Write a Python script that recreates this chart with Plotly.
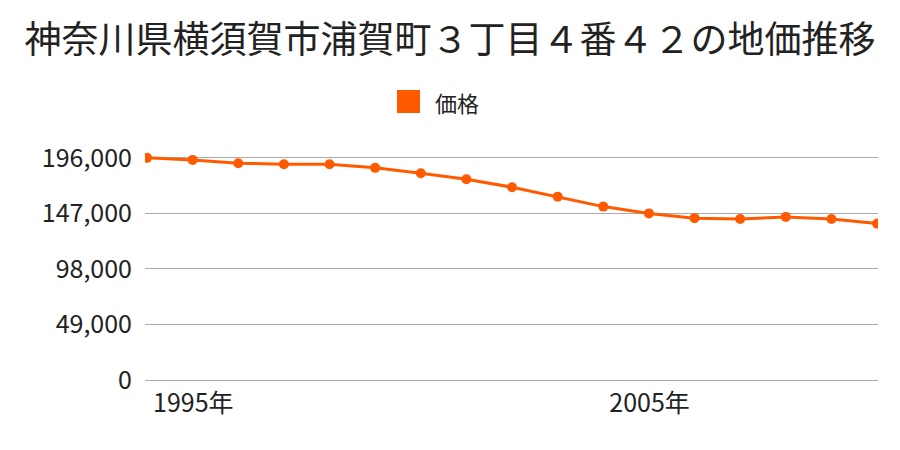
import plotly.graph_objects as go

years = list(range(1995, 2012))
prices = [196000, 194200, 191300, 190400, 190400, 187200, 182500, 177200,
          170100, 161800, 153000, 147000, 142800, 142100, 143900, 142100, 138000]
y_ticks = [0, 49000, 98000, 147000, 196000]
x_ticks = [1995, 2005]
x_tick_labels = ["1995年", "2005年"]
series_name = "価格"
title = "神奈川県横須賀市浦賀町３丁目４番４２の地価推移"

color = "#FF5A00"
font = "Noto Sans CJK JP"

fig = go.Figure()
fig.add_trace(go.Scatter(
    x=years, y=prices, mode="lines+markers", name=series_name,
    line=dict(color=color, width=3), marker=dict(color=color, size=10),
    showlegend=False,
))

# legend (square swatch + label)
fig.add_shape(type="rect", xref="paper", yref="paper",
              x0=0.3438, x1=0.3752, y0=1.1218, y1=1.2185,
              fillcolor=color, line=dict(width=0))
fig.add_annotation(text=series_name, xref="paper", yref="paper",
                   x=0.3929, y=1.170, xanchor="left", yanchor="middle",
                   showarrow=False, font=dict(size=22, family=font, color="#222222"))

fig.update_layout(
    width=900, height=450,
    margin=dict(l=145, r=22, t=142, b=70),
    paper_bgcolor="white", plot_bgcolor="white",
    font=dict(family=font, color="#222222", size=25),
    title=dict(text=title, x=0.5, xanchor="center", y=0.912, yanchor="middle",
               font=dict(size=37, family=font, color="#222222")),
    showlegend=False,
)
fig.update_xaxes(
    range=[1994.956, 2011.02], tickvals=x_ticks, ticktext=x_tick_labels,
    showgrid=False, zeroline=False, showline=False,
    ticks="", ticklabelposition="outside right",
    ticklabelshift=6, ticklabelstandoff=6,
    tickfont=dict(size=25, family=font),
)
fig.update_yaxes(
    range=[0, 210000], tickvals=y_ticks, tickformat=",d",
    showgrid=True, gridcolor="#AAAAAA", gridwidth=1,
    zeroline=True, zerolinecolor="#AAAAAA", zerolinewidth=1,
    ticks="", ticklabelstandoff=12,
    tickfont=dict(size=25, family=font),
)

fig.write_html("out.html")
